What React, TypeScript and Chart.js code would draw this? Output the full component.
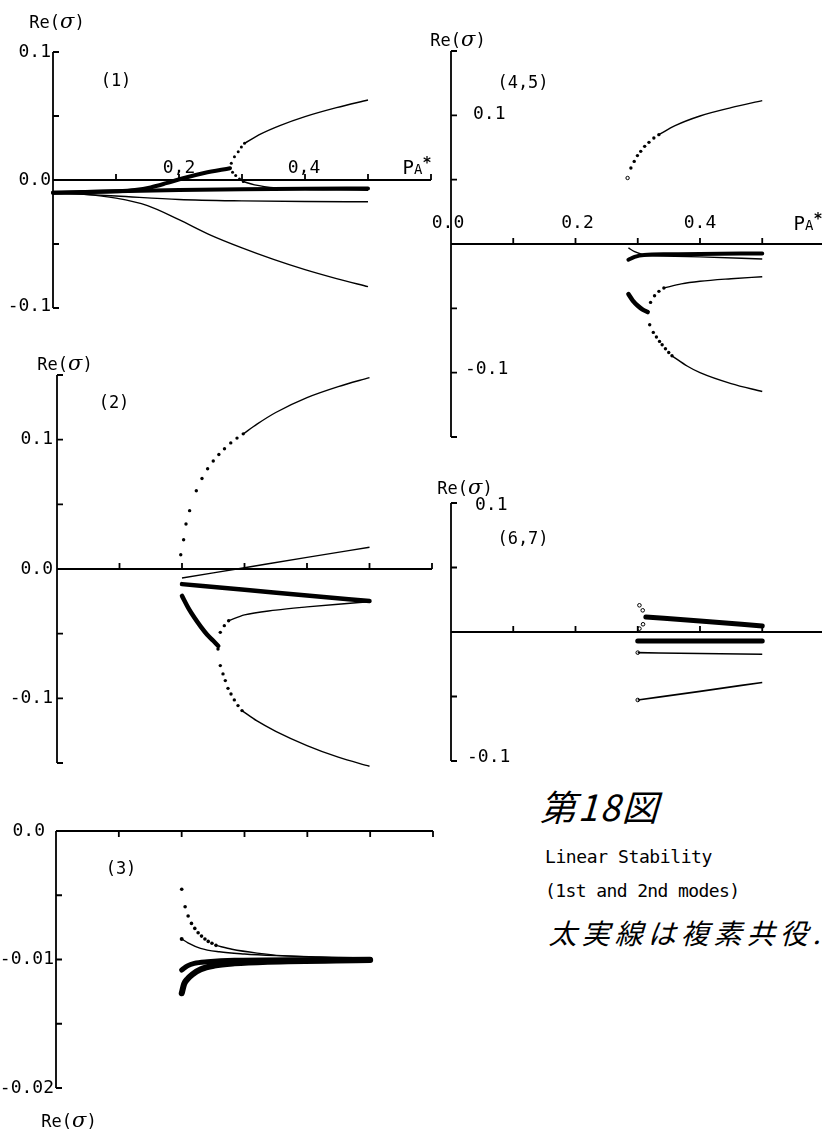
import React, { useEffect, useRef } from "react";
import { Chart, registerables } from "chart.js";
Chart.register(...registerables);

// ---------------- Panel (1) ----------------
const P1_PAIR1_X = [0, 0.1, 0.13, 0.155, 0.18, 0.205, 0.24, 0.281];
const P1_PAIR1_Y = [-0.01, -0.0088, -0.0078, -0.0058, -0.0025, 0.0012, 0.0055, 0.0092];
const P1_PAIR2_X = [0, 0.1, 0.2, 0.3, 0.4, 0.5];
const P1_PAIR2_Y = [-0.01, -0.0088, -0.0079, -0.0073, -0.0069, -0.0066];
const P1_UP_DOTS_X = [0.283, 0.288, 0.294, 0.299, 0.304];
const P1_UP_DOTS_Y = [0.013, 0.0182, 0.0221, 0.0258, 0.0287];
const P1_UP_X = [0.304, 0.33, 0.36, 0.4, 0.45, 0.5];
const P1_UP_Y = [0.0287, 0.036, 0.0425, 0.0495, 0.0565, 0.0625];
const P1_DN_DOTS_X = [0.285, 0.29, 0.296, 0.302];
const P1_DN_DOTS_Y = [0.006, 0.0035, 0.0008, -0.0012];
const P1_DN_X = [0.302, 0.32, 0.355, 0.4, 0.45, 0.5];
const P1_DN_Y = [-0.0012, -0.0038, -0.0062, -0.0072, -0.0077, -0.008];
const P1_MID_X = [0, 0.1, 0.2, 0.3, 0.4, 0.5];
const P1_MID_Y = [-0.01, -0.0125, -0.0152, -0.0163, -0.0168, -0.017];
const P1_LOW_X = [0, 0.05, 0.1, 0.15, 0.2, 0.25, 0.3, 0.35, 0.4, 0.45, 0.5];
const P1_LOW_Y = [-0.01, -0.0112, -0.0142, -0.02, -0.031, -0.043, -0.053, -0.062, -0.07, -0.077, -0.0833];

// ---------------- Panel (2) ----------------
const P2_UP_DOTS_X = [0.198, 0.2026, 0.2064, 0.2122, 0.2229, 0.232, 0.241, 0.25, 0.259, 0.268, 0.278, 0.288, 0.298];
const P2_UP_DOTS_Y = [0.011, 0.0226, 0.0348, 0.0451, 0.0605, 0.07, 0.0775, 0.0835, 0.0885, 0.093, 0.0975, 0.1012, 0.1045];
const P2_UP_X = [0.298, 0.32, 0.35, 0.4, 0.45, 0.5];
const P2_UP_Y = [0.1045, 0.112, 0.121, 0.1325, 0.141, 0.148];
const P2_LIN_X = [0.2, 0.3, 0.4, 0.5];
const P2_LIN_Y = [-0.007, 0.001, 0.009, 0.0168];
const P2_PAIR1_X = [0.2, 0.3, 0.4, 0.5];
const P2_PAIR1_Y = [-0.0117, -0.016, -0.0205, -0.0247];
const P2_PAIR2_X = [0.2, 0.21, 0.22, 0.23, 0.24, 0.25, 0.258];
const P2_PAIR2_Y = [-0.0208, -0.03, -0.0377, -0.0445, -0.0506, -0.0555, -0.0595];
const P2_BU_DOTS_X = [0.2613, 0.2677, 0.2746];
const P2_BU_DOTS_Y = [-0.049, -0.0438, -0.04];
const P2_BU_X = [0.2746, 0.3, 0.35, 0.4, 0.45, 0.5];
const P2_BU_Y = [-0.04, -0.0355, -0.0318, -0.0293, -0.0272, -0.0253];
const P2_BD_DOTS_X = [0.2576, 0.2613, 0.2656, 0.2693, 0.2736, 0.2784, 0.2837, 0.2896, 0.296];
const P2_BD_DOTS_Y = [-0.0618, -0.0747, -0.0811, -0.0863, -0.0923, -0.0966, -0.1012, -0.1056, -0.1095];
const P2_BD_X = [0.296, 0.32, 0.35, 0.4, 0.45, 0.5];
const P2_BD_Y = [-0.1095, -0.1175, -0.1255, -0.1365, -0.1455, -0.1525];

// ---------------- Panel (3) ----------------
const P3_A_DOTS_X = [0.2001, 0.2055, 0.2103, 0.2156, 0.2209, 0.2262, 0.2316, 0.237, 0.2423, 0.2482, 0.2546];
const P3_A_DOTS_Y = [-0.00453, -0.0059, -0.00662, -0.00719, -0.00758, -0.00792, -0.00818, -0.00841, -0.00859, -0.00874, -0.0089];
const P3_A_X = [0.2546, 0.28, 0.32, 0.36, 0.42, 0.5];
const P3_A_Y = [-0.0089, -0.0092, -0.0095, -0.0097, -0.0098, -0.0099];
const P3_B_X = [0.2, 0.21, 0.23, 0.26, 0.3, 0.35, 0.5];
const P3_B_Y = [-0.0084, -0.0087, -0.00913, -0.0094, -0.00957, -0.0097, -0.00996];
const P3_C_X = [0.2001, 0.2092, 0.22, 0.2413, 0.284, 0.5];
const P3_C_Y = [-0.01082, -0.0105, -0.0103, -0.01017, -0.01006, -0.00999];
const P3_D_X = [0.2001, 0.204, 0.2092, 0.2172, 0.2306, 0.252, 0.284, 0.337, 0.5];
const P3_D_Y = [-0.01263, -0.0119, -0.01152, -0.01115, -0.01076, -0.01048, -0.0103, -0.01017, -0.01004];

// ---------------- Panel (4,5) ----------------
const P45_UP_DOTS_X = [0.2837, 0.289, 0.2943, 0.2995, 0.3048, 0.3111, 0.318, 0.3259, 0.3339];
const P45_UP_DOTS_Y = [0.0513, 0.0591, 0.0642, 0.0687, 0.072, 0.0759, 0.079, 0.0824, 0.085];
const P45_UP_X = [0.3339, 0.36, 0.4, 0.45, 0.5];
const P45_UP_Y = [0.085, 0.092, 0.0995, 0.106, 0.1114];
const P45_PAIR1_X = [0.285, 0.295, 0.31, 0.35, 0.4, 0.5];
const P45_PAIR1_Y = [-0.0122, -0.01, -0.0085, -0.008, -0.0077, -0.0073];
const P45_THIN_A_X = [0.285, 0.295, 0.31];
const P45_THIN_A_Y = [-0.003, -0.006, -0.0085];
const P45_THIN_B_X = [0.31, 0.4, 0.5];
const P45_THIN_B_Y = [-0.009, -0.01, -0.0117];
const P45_PAIR2_X = [0.285, 0.292, 0.3, 0.308, 0.316];
const P45_PAIR2_Y = [-0.0389, -0.044, -0.048, -0.051, -0.0529];
const P45_BU_DOTS_X = [0.3206, 0.327, 0.334, 0.342];
const P45_BU_DOTS_Y = [-0.0454, -0.0402, -0.0368, -0.0342];
const P45_BU_X = [0.342, 0.37, 0.4, 0.45, 0.5];
const P45_BU_Y = [-0.0342, -0.031, -0.029, -0.027, -0.0254];
const P45_BD_DOTS_X = [0.3192, 0.325, 0.33, 0.335, 0.3392, 0.3445, 0.3498, 0.355];
const P45_BD_DOTS_Y = [-0.0628, -0.0687, -0.0723, -0.0757, -0.0783, -0.0814, -0.0843, -0.0869];
const P45_BD_X = [0.355, 0.38, 0.4, 0.45, 0.5];
const P45_BD_Y = [-0.0869, -0.095, -0.1, -0.1085, -0.1146];

// ---------------- Panel (6,7) ----------------
const P67_DOTS_X = [0.3027, 0.308, 0.3085, 0.3027];
const P67_DOTS_Y = [0.0207, 0.0168, 0.006, 0.0026];
const P67_PAIR1_X = [0.313, 0.4, 0.5];
const P67_PAIR1_Y = [0.0116, 0.0085, 0.0047];
const P67_PAIR2_X = [0.3, 0.4, 0.5];
const P67_PAIR2_Y = [-0.007, -0.007, -0.007];
const P67_THIN_A_X = [0.3, 0.4, 0.5];
const P67_THIN_A_Y = [-0.016, -0.0167, -0.0173];
const P67_THIN_B_X = [0.3, 0.4, 0.5];
const P67_THIN_B_Y = [-0.0527, -0.046, -0.0391];

// ---------------- helpers ----------------
const xy = (xs: number[], ys: number[]) => xs.map((x, i) => ({ x, y: ys[i] }));

const thick = (xs: number[], ys: number[], w = 4.5) => ({
  data: xy(xs, ys),
  showLine: true,
  borderColor: "#000",
  borderWidth: w,
  pointRadius: 0,
  borderCapStyle: "round",
  borderJoinStyle: "round",
  cubicInterpolationMode: "monotone",
  clip: false,
});
const thin = (xs: number[], ys: number[], w = 1.4) => ({
  data: xy(xs, ys),
  showLine: true,
  borderColor: "#000",
  borderWidth: w,
  pointRadius: 0,
  cubicInterpolationMode: "monotone",
  clip: false,
});
const dots = (xs: number[], ys: number[], open = false, r = 1.7) => ({
  data: xy(xs, ys),
  showLine: false,
  pointRadius: r,
  pointBackgroundColor: open ? "#fff" : "#000",
  pointBorderColor: "#000",
  pointBorderWidth: open ? 1 : 0,
  clip: false,
});

type Lbl = { axis: "x" | "y"; v: number; text: string; dx: number; dy: number; align: CanvasTextAlign };
type Panel = {
  key: string;
  box: { left: number; top: number; width: number; height: number };
  pad: { left: number; right: number; top: number; bottom: number };
  xMax: number;
  yMin: number;
  yMax: number;
  xAxisAt: number;
  xAxisEnd: number;
  xTicks: number[];
  xTickDir: number;
  yTicks: number[];
  labels: Lbl[];
  datasets: any[];
};

const LEFT_X_TICKS = [0.1, 0.2, 0.3, 0.4, 0.5, 0.6];
const RIGHT_X_TICKS = [0.1, 0.2, 0.3, 0.4, 0.5];

const PANELS: Panel[] = [
  {
    key: "p1",
    box: { left: 0, top: 0, width: 445, height: 330 },
    pad: { left: 53, right: 14, top: 52, bottom: 22 },
    xMax: 0.6, yMin: -0.1, yMax: 0.1, xAxisAt: 0, xAxisEnd: 0.6,
    xTicks: LEFT_X_TICKS, xTickDir: -1,
    yTicks: [0.1, 0.05, -0.05, -0.1],
    labels: [
      { axis: "y", v: 0.1, text: "0.1", dx: -2, dy: 0, align: "right" },
      { axis: "y", v: 0, text: "0.0", dx: -2, dy: 0, align: "right" },
      { axis: "y", v: -0.1, text: "-0.1", dx: -2, dy: -2, align: "right" },
      { axis: "x", v: 0.2, text: "0,2", dx: 0, dy: -12, align: "center" },
      { axis: "x", v: 0.4, text: "0,4", dx: -1, dy: -12, align: "center" },
    ],
    datasets: [
      thin(P1_LOW_X, P1_LOW_Y),
      thin(P1_MID_X, P1_MID_Y),
      thin(P1_UP_X, P1_UP_Y),
      dots(P1_UP_DOTS_X, P1_UP_DOTS_Y, false, 1.5),
      thin(P1_DN_X, P1_DN_Y),
      dots(P1_DN_DOTS_X, P1_DN_DOTS_Y, false, 1.5),
      thick(P1_PAIR2_X, P1_PAIR2_Y, 4),
      thick(P1_PAIR1_X, P1_PAIR1_Y, 4),
    ],
  },
  {
    key: "p2",
    box: { left: 0, top: 340, width: 445, height: 440 },
    pad: { left: 57, right: 13, top: 35, bottom: 17 },
    xMax: 0.6, yMin: -0.15, yMax: 0.15, xAxisAt: 0, xAxisEnd: 0.6,
    xTicks: LEFT_X_TICKS, xTickDir: -1,
    yTicks: [0.15, 0.1, 0.05, -0.05, -0.1, -0.15],
    labels: [
      { axis: "y", v: 0.1, text: "0.1", dx: -4, dy: 0, align: "right" },
      { axis: "y", v: 0, text: "0.0", dx: -4, dy: 0, align: "right" },
      { axis: "y", v: -0.1, text: "-0.1", dx: -4, dy: 0, align: "right" },
    ],
    datasets: [
      thin(P2_UP_X, P2_UP_Y),
      dots(P2_UP_DOTS_X, P2_UP_DOTS_Y),
      thin(P2_LIN_X, P2_LIN_Y),
      thin(P2_BU_X, P2_BU_Y),
      dots(P2_BU_DOTS_X, P2_BU_DOTS_Y),
      thin(P2_BD_X, P2_BD_Y),
      dots(P2_BD_DOTS_X, P2_BD_DOTS_Y),
      thick(P2_PAIR1_X, P2_PAIR1_Y, 4.5),
      thick(P2_PAIR2_X, P2_PAIR2_Y, 4.5),
    ],
  },
  {
    key: "p3",
    box: { left: 0, top: 800, width: 445, height: 333 },
    pad: { left: 56, right: 12, top: 31, bottom: 45 },
    xMax: 0.6, yMin: -0.02, yMax: 0, xAxisAt: 0, xAxisEnd: 0.6,
    xTicks: LEFT_X_TICKS, xTickDir: 1,
    yTicks: [-0.005, -0.01, -0.015, -0.02],
    labels: [
      { axis: "y", v: 0, text: "0.0", dx: -11, dy: 0, align: "right" },
      { axis: "y", v: -0.01, text: "-0.01", dx: -2, dy: 0, align: "right" },
      { axis: "y", v: -0.02, text: "-0.02", dx: -2, dy: 0, align: "right" },
    ],
    datasets: [
      thin(P3_A_X, P3_A_Y),
      dots(P3_A_DOTS_X, P3_A_DOTS_Y, false, 1.8),
      thin(P3_B_X, P3_B_Y),
      dots([P3_B_X[0]], [P3_B_Y[0]], false, 2),
      thick(P3_C_X, P3_C_Y, 5),
      thick(P3_D_X, P3_D_Y, 6),
    ],
  },
  {
    key: "p45",
    box: { left: 420, top: 20, width: 407, height: 430 },
    pad: { left: 31, right: 0, top: 31, bottom: 13 },
    xMax: 0.596, yMin: -0.15, yMax: 0.15, xAxisAt: 0, xAxisEnd: 0.596,
    xTicks: RIGHT_X_TICKS, xTickDir: -1,
    yTicks: [0.15, 0.1, 0.05, -0.05, -0.1, -0.15],
    labels: [
      { axis: "y", v: 0.1, text: "0.1", dx: 22, dy: -1, align: "left" },
      { axis: "y", v: -0.1, text: "-0.1", dx: 14, dy: -3, align: "left" },
      { axis: "x", v: 0, text: "0.0", dx: -3, dy: -21, align: "center" },
      { axis: "x", v: 0.2, text: "0.2", dx: 2, dy: -21, align: "center" },
      { axis: "x", v: 0.4, text: "0.4", dx: 0, dy: -21, align: "center" },
    ],
    datasets: [
      thin(P45_UP_X, P45_UP_Y),
      dots(P45_UP_DOTS_X.slice(1), P45_UP_DOTS_Y.slice(1)),
      dots(P45_UP_DOTS_X.slice(0, 1), P45_UP_DOTS_Y.slice(0, 1), true),
      thin(P45_THIN_A_X, P45_THIN_A_Y),
      thin(P45_THIN_B_X, P45_THIN_B_Y),
      thin(P45_BU_X, P45_BU_Y),
      dots(P45_BU_DOTS_X, P45_BU_DOTS_Y),
      thin(P45_BD_X, P45_BD_Y),
      dots(P45_BD_DOTS_X, P45_BD_DOTS_Y),
      thick(P45_PAIR1_X, P45_PAIR1_Y, 4),
      thick(P45_PAIR2_X, P45_PAIR2_Y, 4.5),
    ],
  },
  {
    key: "p67",
    box: { left: 420, top: 470, width: 407, height: 300 },
    pad: { left: 31, right: 0, top: 33, bottom: 9 },
    xMax: 0.596, yMin: -0.1, yMax: 0.1, xAxisAt: 0, xAxisEnd: 0.596,
    xTicks: RIGHT_X_TICKS, xTickDir: -1,
    yTicks: [0.1, 0.05, -0.05, -0.1],
    labels: [
      { axis: "y", v: 0.1, text: "0.1", dx: 24, dy: 2, align: "left" },
      { axis: "y", v: -0.1, text: "-0.1", dx: 16, dy: -4, align: "left" },
    ],
    datasets: [
      dots(P67_DOTS_X, P67_DOTS_Y, true, 1.8),
      thin(P67_THIN_A_X, P67_THIN_A_Y, 1.6),
      dots([P67_THIN_A_X[0]], [P67_THIN_A_Y[0]], true, 1.8),
      thin(P67_THIN_B_X, P67_THIN_B_Y, 1.6),
      dots([P67_THIN_B_X[0]], [P67_THIN_B_Y[0]], true, 1.8),
      thick(P67_PAIR1_X, P67_PAIR1_Y, 5),
      thick(P67_PAIR2_X, P67_PAIR2_Y, 5),
    ],
  },
];

const MONO = '"DejaVu Sans Mono", "Liberation Mono", monospace';

function makeAxesPlugin(p: Panel) {
  return {
    id: "paperAxes_" + p.key,
    afterDatasetsDraw(chart: any) {
      const { ctx } = chart;
      const xs = chart.scales.x;
      const ys = chart.scales.y;
      const x0 = xs.getPixelForValue(0);
      const ya = ys.getPixelForValue(p.xAxisAt);
      ctx.save();
      ctx.strokeStyle = "#000";
      ctx.lineWidth = 1.8;
      ctx.beginPath();
      ctx.moveTo(x0, ys.getPixelForValue(p.yMax));
      ctx.lineTo(x0, ys.getPixelForValue(p.yMin));
      for (const t of p.yTicks) {
        const py = ys.getPixelForValue(t);
        ctx.moveTo(x0, py);
        ctx.lineTo(x0 + 6, py);
      }
      ctx.moveTo(x0, ya);
      ctx.lineTo(xs.getPixelForValue(p.xAxisEnd), ya);
      for (const t of p.xTicks) {
        const px = xs.getPixelForValue(t);
        ctx.moveTo(px, ya);
        ctx.lineTo(px, ya + 6 * p.xTickDir);
      }
      ctx.stroke();
      ctx.fillStyle = "#000";
      ctx.font = "18px " + MONO;
      ctx.textBaseline = "middle";
      for (const l of p.labels) {
        const px = l.axis === "y" ? x0 + l.dx : xs.getPixelForValue(l.v) + l.dx;
        const py = l.axis === "y" ? ys.getPixelForValue(l.v) + l.dy : ya + l.dy;
        ctx.textAlign = l.align;
        ctx.fillText(l.text, px, py);
      }
      ctx.restore();
    },
  };
}

function PanelChart({ p }: { p: Panel }) {
  const ref = useRef<HTMLCanvasElement | null>(null);
  useEffect(() => {
    if (!ref.current) return;
    const chart = new Chart(ref.current, {
      type: "scatter",
      data: { datasets: p.datasets as any },
      options: {
        animation: false,
        responsive: false,
        maintainAspectRatio: false,
        devicePixelRatio: 1,
        events: [],
        layout: { padding: p.pad },
        plugins: { legend: { display: false }, tooltip: { enabled: false } },
        scales: {
          x: { type: "linear", min: 0, max: p.xMax, display: false },
          y: { type: "linear", min: p.yMin, max: p.yMax, display: false },
        },
      } as any,
      plugins: [makeAxesPlugin(p)],
    });
    return () => chart.destroy();
  }, [p]);
  return (
    <canvas
      ref={ref}
      width={p.box.width}
      height={p.box.height}
      style={{ position: "absolute", left: p.box.left, top: p.box.top, width: p.box.width, height: p.box.height }}
    />
  );
}

const centered = (cx: number, cy: number, extra: React.CSSProperties = {}): React.CSSProperties => ({
  position: "absolute",
  left: cx,
  top: cy,
  transform: "translate(-50%, -50%)",
  whiteSpace: "nowrap",
  lineHeight: 1,
  color: "#000",
  ...extra,
});

function ReSigma({ cx, cy }: { cx: number; cy: number }) {
  return (
    <div style={centered(cx, cy, { fontFamily: MONO, fontSize: 17 })}>
      Re(<span style={{ fontFamily: '"DejaVu Serif", serif', fontStyle: "italic", fontSize: 21 }}>σ</span>)
    </div>
  );
}

function PA({ cx, cy }: { cx: number; cy: number }) {
  return (
    <div style={centered(cx, cy, { fontFamily: MONO, fontSize: 19 })}>
      P<span style={{ fontSize: 14 }}>A</span>
      <span style={{ fontSize: 15, fontWeight: 700, verticalAlign: 6 }}>*</span>
    </div>
  );
}

export default function App() {
  return (
    <div style={{ position: "absolute", left: 0, top: 0, width: 827, height: 1133, background: "#fff", overflow: "hidden" }}>
      {PANELS.map((p) => (
        <PanelChart key={p.key} p={p} />
      ))}
      <ReSigma cx={57} cy={21} />
      <ReSigma cx={458} cy={39} />
      <ReSigma cx={65} cy={363} />
      <ReSigma cx={465} cy={487} />
      <ReSigma cx={69} cy={1120} />
      <div style={centered(116, 80, { fontFamily: MONO, fontSize: 17 })}>(1)</div>
      <div style={centered(114, 402, { fontFamily: MONO, fontSize: 17 })}>(2)</div>
      <div style={centered(121, 868, { fontFamily: MONO, fontSize: 17 })}>(3)</div>
      <div style={centered(523, 82, { fontFamily: MONO, fontSize: 17 })}>(4,5)</div>
      <div style={centered(523, 538, { fontFamily: MONO, fontSize: 17 })}>(6,7)</div>
      <PA cx={417} cy={166} />
      <PA cx={808} cy={222} />
      <div
        style={centered(604, 805, {
          fontFamily: '"Noto Sans CJK JP", sans-serif',
          fontSize: 36,
          fontWeight: 400,
          letterSpacing: 2,
          transform: "translate(-50%, -50%) skewX(-16deg)",
        })}
      >
        第18図
      </div>
      <div style={{ position: "absolute", left: 545, top: 848, fontFamily: MONO, fontSize: 18, letterSpacing: -0.4, lineHeight: 1, whiteSpace: "nowrap", color: "#000" }}>
        Linear Stability
      </div>
      <div style={{ position: "absolute", left: 545, top: 882, fontFamily: MONO, fontSize: 18, letterSpacing: -0.6, lineHeight: 1, whiteSpace: "nowrap", color: "#000" }}>
        (1st and 2nd modes)
      </div>
      <div
        style={{
          position: "absolute",
          left: 548,
          top: 918,
          fontFamily: '"Noto Sans CJK JP", sans-serif',
          fontSize: 28,
          fontWeight: 400,
          letterSpacing: 5,
          lineHeight: 1,
          whiteSpace: "nowrap",
          color: "#000",
          transform: "skewX(-16deg)",
          transformOrigin: "left bottom",
        }}
      >
        太実線は複素共役.
      </div>
    </div>
  );
}
